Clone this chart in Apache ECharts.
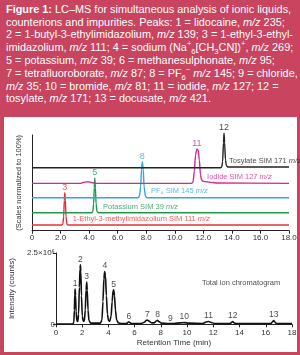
<!DOCTYPE html>
<html><head><meta charset="utf-8">
<script src="https://cdn.jsdelivr.net/npm/echarts@6/dist/echarts.min.js"></script>
<style>
html,body{margin:0;padding:0;width:300px;height:355px;background:#c8445f;overflow:hidden;font-family:'Liberation Sans',Arial,sans-serif}
#panel{position:absolute;left:4px;top:117px;width:293px;height:235px;background:#fff}
#cap{position:absolute;left:6px;top:2.8px;color:#fff;font-size:10.9px;line-height:12.8px;white-space:nowrap}
#cap sub,#cap sup{font-size:70%;line-height:0}
#chart{position:absolute;left:0;top:0;width:300px;height:355px}
</style></head><body>
<div id="panel"></div>
<div id="cap"><b>Figure 1:</b> LC–MS for simultaneous analysis of ionic liquids,<br>counterions and impurities. Peaks: 1 = lidocaine, <i>m/z</i> 235;<br>2 = 1-butyl-3-ethylimidazolium, <i>m/z</i> 139; 3 = 1-ethyl-3-ethyl-<br>imidazolium, <i>m/z</i> 111; 4 = sodium (Na<sup>+</sup><sub>6</sub>[CH<sub>3</sub>CN])<sup>+</sup>, <i>m/z</i> 269;<br>5 = potassium, <i>m/z</i> 39; 6 = methanesulphonate, <i>m/z</i> 95;<br>7 = tetrafluoroborate, <i>m/z</i> 87; 8 = PF<sub>6</sub><sup>−</sup> <i>m/z</i> 145; 9 = chloride,<br><i>m/z</i> 35; 10 = bromide, <i>m/z</i> 81; 11 = iodide, <i>m/z</i> 127; 12 =<br>tosylate, <i>m/z</i> 171; 13 = docusate, <i>m/z</i> 421.</div>
<div id="chart"></div>
<script>
// ---- Top panel: SIM traces (x = min, y = % of panel height, stacked offsets) ----
const topTickLabels = ['0','2.0','4.0','6.0','8.0','10.0','12.0','14.0','16.0','18.0'];
const redTrace = [[0,6.0],[2.08,6.0],[2.16,7],[2.22,15],[2.26,32],[2.30,39.7],[2.34,32],[2.38,15],[2.44,7],[2.52,6.0],[18,6.0]];
const greenTrace = [[0,18.8],[4.18,18.8],[4.26,20],[4.32,28],[4.36,45],[4.40,54.8],[4.44,45],[4.49,28],[4.55,20],[4.65,18.8],[18,18.8]];
const blueTrace = [[0,34.5],[7.42,34.5],[7.53,36],[7.61,46],[7.67,64],[7.73,72.1],[7.79,64],[7.85,46],[7.94,36],[8.07,34.5],[18,34.5]];
const magentaTrace = [[0,49.5],[3.4,49.5],[3.7,50.8],[3.9,51.2],[4.2,50.2],[4.5,49.5],[11.18,49.5],[11.28,51],[11.37,62],[11.45,79],[11.55,85.4],[11.64,84],[11.72,74],[11.80,58],[11.88,53],[12.0,51.5],[12.5,50.5],[13.0,49.8],[18,49.5]];
const blackTrace = [[0,65.8],[13.2,65.8],[13.29,66.5],[13.35,72],[13.41,92],[13.45,101.8],[13.49,92],[13.55,74],[13.61,68],[13.72,66.6],[18,66.6]];
const topPeakLabels = [[2.30,39.7,'3'],[4.40,54.8,'5'],[7.73,72.1,'8'],[11.55,85.4,'11'],[13.45,101.8,'12']];
const traceNames = ['1-Ethyl-3-methylimidazolium SIM 111','Potassium SIM 39','PF₆ SIM 145','Iodide SIM 127','Tosylate SIM 171'];
const traceNamePos = [[2.85,11.9],[4.97,24.5],[8.33,41.8],[12.26,56.4],[13.80,72.8]];

// ---- Bottom panel: total ion chromatogram (x = min, y = counts ×10^6) ----
const ticTickLabels = ['0','2','4','6','8','10','12','14','16','18'];
const ticTrace = [[0,0.01],[1.3,0.01],[1.37,0.08],[1.41,0.5],[1.44,1.05],[1.47,1.24],[1.50,1.0],[1.54,0.45],[1.60,0.12],[1.67,0.1],[1.73,0.35],[1.79,1.3],[1.84,1.95],[1.87,2.09],[1.90,1.85],[1.95,1.0],[2.01,0.3],[2.09,0.1],[2.17,0.12],[2.24,0.5],[2.30,1.2],[2.35,1.48],[2.39,1.2],[2.45,0.5],[2.52,0.14],[2.65,0.04],[3.4,0.04],[3.51,0.15],[3.59,0.8],[3.66,1.6],[3.72,1.85],[3.78,1.7],[3.85,1.0],[3.93,0.35],[4.01,0.14],[4.1,0.1],[4.21,0.28],[4.29,0.8],[4.36,1.18],[4.41,1.21],[4.47,1.0],[4.54,0.5],[4.63,0.15],[4.76,0.05],[5.0,0.03],[5.4,0.03],[5.5,0.07],[5.56,0.09],[5.62,0.06],[5.75,0.03],[6.5,0.03],[6.75,0.07],[6.9,0.14],[6.97,0.15],[7.1,0.11],[7.3,0.05],[7.5,0.05],[7.65,0.11],[7.75,0.14],[7.85,0.1],[8.05,0.04],[8.5,0.03],[9.0,0.03],[9.5,0.05],[9.78,0.06],[10.1,0.04],[11.2,0.03],[11.45,0.08],[11.63,0.1],[11.8,0.07],[12.1,0.03],[13.3,0.03],[13.4,0.07],[13.48,0.1],[13.56,0.06],[13.7,0.03],[16.4,0.03],[16.5,0.08],[16.6,0.13],[16.7,0.08],[16.8,0.03],[18,0.03]];
const ticPeakLabels = [[1.47,1.24,'1'],[1.87,2.09,'2'],[2.35,1.48,'3'],[3.73,1.85,'4'],[4.41,1.21,'5'],[5.56,0.09,'6'],[6.97,0.15,'7'],[7.75,0.14,'8'],[8.72,0.0,'9'],[9.78,0.06,'10'],[11.63,0.1,'11'],[13.48,0.1,'12'],[16.6,0.13,'13']];
const ticTitle = 'Total ion chromatogram';
const ticTitlePos = [11.13,1.465];

const FONT = "'Liberation Sans', Arial, sans-serif";
const colors = ['#e8303a','#1e9a4c','#3aa3dc','#d1298c','#222222'];
const traces = [redTrace, greenTrace, blueTrace, magentaTrace, blackTrace];

const series = [];
traces.forEach((d, i) => {
  series.push({type:'line', xAxisIndex:0, yAxisIndex:0, data:d, showSymbol:false, smooth:0.25, smoothMonotone:'x', clip:false,
    lineStyle:{color:colors[i], width:1.4}, silent:true, z:2});
});
series.push({type:'scatter', xAxisIndex:0, yAxisIndex:0, symbolSize:0, clip:false, silent:true,
  data: topPeakLabels.map((p, i) => ({value:p, label:{color:colors[i]}})),
  label:{show:true, position:'top', distance:1, fontSize:9, fontFamily:FONT, formatter:p => p.value[2]}});
series.push({type:'scatter', xAxisIndex:0, yAxisIndex:0, symbolSize:0, clip:false, silent:true,
  data: traceNamePos.map((p, i) => ({value:[p[0], p[1], traceNames[i]], label:{color:colors[i], rich:{it:{fontStyle:'italic', color:colors[i], fontSize:7.5, fontFamily:FONT}}}})),
  label:{show:true, position:'right', distance:0, fontSize:7.5, fontFamily:FONT, formatter:p => p.value[2] + ' {it|m/z}'}});

series.push({type:'line', xAxisIndex:1, yAxisIndex:1, data:ticTrace, showSymbol:false, smooth:0.25, smoothMonotone:'x', clip:false,
  lineStyle:{color:'#111', width:1.6}, silent:true});
series.push({type:'scatter', xAxisIndex:1, yAxisIndex:1, symbolSize:0, clip:false, silent:true,
  data: ticPeakLabels,
  label:{show:true, position:'top', distance:1, color:'#222', fontSize:8.5, fontFamily:FONT, formatter:p => p.value[2]}});
series.push({type:'scatter', xAxisIndex:1, yAxisIndex:1, symbolSize:0, clip:false, silent:true,
  data: [[ticTitlePos[0], ticTitlePos[1], ticTitle]],
  label:{show:true, position:'right', distance:0, color:'#222', fontSize:7.5, fontFamily:FONT, formatter:p => p.value[2]}});

const axisLine = {show:true, lineStyle:{color:'#222', width:1}};
const option = {
  animation:false,
  backgroundColor:'transparent',
  textStyle:{fontFamily:FONT},
  grid:[
    {left:32, top:135, width:257, height:95.7},
    {left:32, top:253, width:260, height:71.3}
  ],
  xAxis:[
    {gridIndex:0, type:'value', min:0, max:18, interval:2, axisLine:axisLine, splitLine:{show:false},
     axisTick:{show:true, length:3, lineStyle:{color:'#222'}},
     axisLabel:{fontSize:8, color:'#333', margin:3, fontFamily:FONT, formatter:v => topTickLabels[Math.round(v/2)]}},
    {gridIndex:1, type:'value', min:0, max:18, interval:2, axisLine:axisLine, splitLine:{show:false},
     axisTick:{show:true, length:3, lineStyle:{color:'#222'}},
     axisLabel:{fontSize:8, color:'#333', margin:4, fontFamily:FONT, formatter:v => ticTickLabels[Math.round(v/2)]},
     name:'Retention Time (min)', nameLocation:'middle', nameGap:14, nameTextStyle:{fontSize:8, color:'#333', fontFamily:FONT}}
  ],
  yAxis:[
    {gridIndex:0, type:'value', min:0, max:100, axisLine:axisLine, axisTick:{show:false}, axisLabel:{show:false}, splitLine:{show:false},
     name:'(Scales normalized to 100%)', nameLocation:'middle', nameGap:9, nameTextStyle:{fontSize:7.5, color:'#333', fontFamily:FONT}},
    {gridIndex:1, type:'value', min:0, max:2.5, interval:2.5, axisLine:axisLine, splitLine:{show:false},
     axisTick:{show:true, length:3, lineStyle:{color:'#222'}},
     axisLabel:{fontSize:8, color:'#333', margin:1, fontFamily:FONT, formatter:v => v === 0 ? '0' : '2.5×10⁶'},
     name:'Intensity (counts)', nameLocation:'middle', nameGap:10, nameTextStyle:{fontSize:8, color:'#333', fontFamily:FONT}}
  ],
  series:series
};
const chart = echarts.init(document.getElementById('chart'), null, {renderer:'canvas'});
chart.setOption(option);
</script>
</body></html>
